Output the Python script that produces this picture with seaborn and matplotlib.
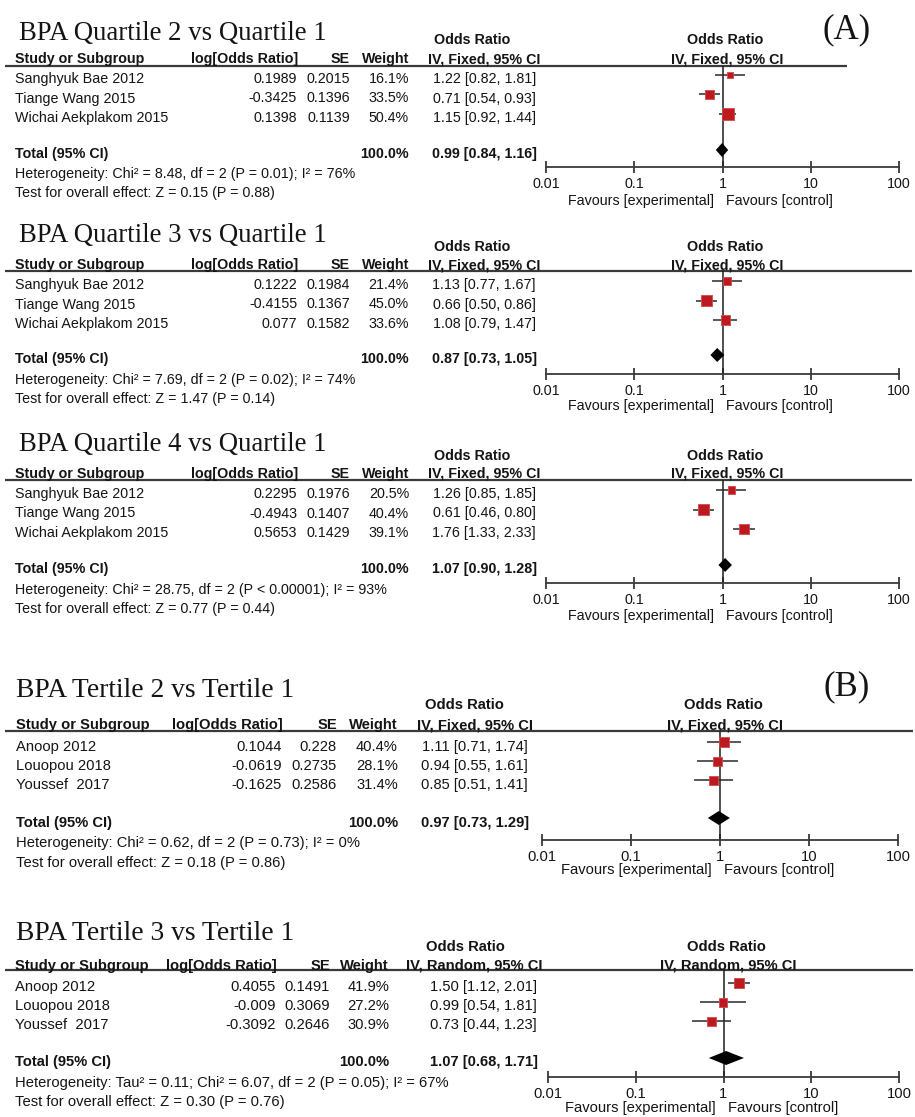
import numpy as np
import pandas as pd
import matplotlib
matplotlib.use("Agg")
import matplotlib.pyplot as plt
import seaborn as sns

# ---------------------------------------------------------------- data
titles = [
    "BPA Quartile 2 vs Quartile 1",
    "BPA Quartile 3 vs Quartile 1",
    "BPA Quartile 4 vs Quartile 1",
    "BPA Tertile 2 vs Tertile 1",
    "BPA Tertile 3 vs Tertile 1",
]
quartile_studies = ["Sanghyuk Bae 2012", "Tiange Wang 2015", "Wichai Aekplakom 2015"]
tertile_studies = ["Anoop 2012", "Louopou 2018", "Youssef  2017"]
study_names = [quartile_studies, quartile_studies, quartile_studies,
               tertile_studies, tertile_studies]

log_or = [
    [0.1989, -0.3425, 0.1398],
    [0.1222, -0.4155, 0.077],
    [0.2295, -0.4943, 0.5653],
    [0.1044, -0.0619, -0.1625],
    [0.4055, -0.009, -0.3092],
]
se = [
    [0.2015, 0.1396, 0.1139],
    [0.1984, 0.1367, 0.1582],
    [0.1976, 0.1407, 0.1429],
    [0.228, 0.2735, 0.2586],
    [0.1491, 0.3069, 0.2646],
]
weight = [
    [16.1, 33.5, 50.4],
    [21.4, 45.0, 33.6],
    [20.5, 40.4, 39.1],
    [40.4, 28.1, 31.4],
    [41.9, 27.2, 30.9],
]
odds_ratio = [
    [1.22, 0.71, 1.15],
    [1.13, 0.66, 1.08],
    [1.26, 0.61, 1.76],
    [1.11, 0.94, 0.85],
    [1.50, 0.99, 0.73],
]
ci_low = [
    [0.82, 0.54, 0.92],
    [0.77, 0.50, 0.79],
    [0.85, 0.46, 1.33],
    [0.71, 0.55, 0.51],
    [1.12, 0.54, 0.44],
]
ci_high = [
    [1.81, 0.93, 1.44],
    [1.67, 0.86, 1.47],
    [1.85, 0.80, 2.33],
    [1.74, 1.61, 1.41],
    [2.01, 1.81, 1.23],
]
total_or = [0.99, 0.87, 1.07, 0.97, 1.07]
total_low = [0.84, 0.73, 0.90, 0.73, 0.68]
total_high = [1.16, 1.05, 1.28, 1.29, 1.71]
methods = ["Fixed", "Fixed", "Fixed", "Fixed", "Random"]
heterogeneity = [
    "Heterogeneity: Chi\u00b2 = 8.48, df = 2 (P = 0.01); I\u00b2 = 76%",
    "Heterogeneity: Chi\u00b2 = 7.69, df = 2 (P = 0.02); I\u00b2 = 74%",
    "Heterogeneity: Chi\u00b2 = 28.75, df = 2 (P < 0.00001); I\u00b2 = 93%",
    "Heterogeneity: Chi\u00b2 = 0.62, df = 2 (P = 0.73); I\u00b2 = 0%",
    "Heterogeneity: Tau\u00b2 = 0.11; Chi\u00b2 = 6.07, df = 2 (P = 0.05); I\u00b2 = 67%",
]
overall_test = [
    "Test for overall effect: Z = 0.15 (P = 0.88)",
    "Test for overall effect: Z = 1.47 (P = 0.14)",
    "Test for overall effect: Z = 0.77 (P = 0.44)",
    "Test for overall effect: Z = 0.18 (P = 0.86)",
    "Test for overall effect: Z = 0.30 (P = 0.76)",
]
axis_ticks = [0.01, 0.1, 1, 10, 100]
axis_tick_labels = ["0.01", "0.1", "1", "10", "100"]
panel_tags = {0: "(A)", 3: "(B)"}

# ---------------------------------------------------------------- layout (pixels)
W, H = 915, 1117
layout = [
    dict(base=79, step=19.5, title=40, title_x=19, title_fs=19.3, orhdr=40, hdr=59, rule=66,
         total=154, het=174, test=193, axis=167, ticklab=183, fav=201, sq=-4, name_x=15,
         lor_r=297, se_r=350, wt_r=409, ci_r=536, cihdr_r=540, orhdr_c=472, pl=546, pr=899,
         rule_r=847, fs=10.3),
    dict(base=285, step=19.5, title=242, title_x=19, title_fs=19.3, orhdr=247, hdr=265,
         rule=271, total=359, het=380, test=399, axis=374, ticklab=388, fav=406, sq=-4,
         name_x=15, lor_r=297, se_r=350, wt_r=409, ci_r=536, cihdr_r=540, orhdr_c=472,
         pl=546, pr=899, rule_r=912, fs=10.3),
    dict(base=494, step=19.5, title=451, title_x=19, title_fs=19.3, orhdr=456, hdr=474,
         rule=480, total=569, het=590, test=609, axis=583, ticklab=597, fav=616, sq=-4,
         name_x=15, lor_r=297, se_r=350, wt_r=409, ci_r=536, cihdr_r=540, orhdr_c=472,
         pl=546, pr=899, rule_r=912, fs=10.3),
    dict(base=747, step=19.2, title=697, title_x=16, title_fs=19.8, orhdr=705, hdr=725,
         rule=731, total=823, het=843, test=863, axis=840, ticklab=853, fav=870, sq=-5,
         name_x=16, lor_r=282, se_r=337, wt_r=398, ci_r=528, cihdr_r=533, orhdr_c=464,
         pl=542, pr=898, rule_r=913, fs=10.6),
    dict(base=987, step=19.2, title=940, title_x=16, title_fs=19.8, orhdr=947, hdr=966,
         rule=970, total=1062, het=1083, test=1102, axis=1077, ticklab=1092, fav=1108, sq=-4,
         name_x=15, lor_r=276, se_r=330, wt_r=389, ci_r=537, cihdr_r=542, orhdr_c=465,
         pl=548, pr=899, rule_r=913, fs=10.6),
]

SQUARE = "#BD1A20"
SQUARE_EDGE = "#D24A4E"
INK = "#141414"
RULE = "#3a3a3a"

sns.set_theme(style="white")
plt.rcParams["font.family"] = ["Liberation Sans", "DejaVu Sans"]

fig = plt.figure(figsize=(W / 100, H / 100), dpi=100)
canvas = fig.add_axes([0, 0, 1, 1])
canvas.set_xlim(0, W)
canvas.set_ylim(H, 0)
canvas.axis("off")


def txt(x, y, s, ha="left", bold=False, size=10.3, **kw):
    canvas.text(x, y, s, ha=ha, va="center", fontsize=size, color=INK,
                fontweight="bold" if bold else "normal", **kw)


for p, L in enumerate(layout):
    fs = L["fs"]
    names = study_names[p]
    n = len(names)
    x_one = L["pl"] + (L["pr"] - L["pl"]) / 2

    # title and panel tag
    canvas.text(L["title_x"], L["title"], titles[p], ha="left", va="baseline",
                fontsize=L["title_fs"], family="Liberation Serif", color=INK)
    if p in panel_tags:
        canvas.text(847, L["title"] - 2, panel_tags[p], ha="center", va="baseline",
                    fontsize=25, family="Liberation Serif", color=INK)

    # column headers
    method = f"IV, {methods[p]}, 95% CI"
    txt(L["orhdr_c"], L["orhdr"], "Odds Ratio", ha="center", bold=True, size=fs)
    txt(x_one + 3, L["orhdr"], "Odds Ratio", ha="center", bold=True, size=fs)
    txt(L["name_x"], L["hdr"], "Study or Subgroup", bold=True, size=fs)
    txt(L["lor_r"] + 1, L["hdr"], "log[Odds Ratio]", ha="right", bold=True, size=fs)
    txt(L["se_r"], L["hdr"], "SE", ha="right", bold=True, size=fs)
    txt(L["wt_r"], L["hdr"], "Weight", ha="right", bold=True, size=fs)
    txt(L["cihdr_r"], L["hdr"], method, ha="right", bold=True, size=fs)
    txt(x_one + 5, L["hdr"], method, ha="center", bold=True, size=fs)
    canvas.plot([5, L["rule_r"]], [L["rule"], L["rule"]], color=RULE, lw=1.6,
                solid_capstyle="butt")

    # study rows
    for i in range(n):
        y = L["base"] + i * L["step"]
        txt(L["name_x"], y, names[i], size=fs)
        txt(L["lor_r"], y, f"{log_or[p][i]:g}", ha="right", size=fs)
        txt(L["se_r"], y, f"{se[p][i]:g}", ha="right", size=fs)
        txt(L["wt_r"], y, f"{weight[p][i]:.1f}%", ha="right", size=fs)
        txt(L["ci_r"], y,
            f"{odds_ratio[p][i]:.2f} [{ci_low[p][i]:.2f}, {ci_high[p][i]:.2f}]",
            ha="right", size=fs)

    # pooled estimate and statistics
    txt(L["name_x"], L["total"], "Total (95% CI)", bold=True, size=fs)
    txt(L["wt_r"], L["total"], "100.0%", ha="right", bold=True, size=fs)
    txt(L["ci_r"] + 1, L["total"],
        f"{total_or[p]:.2f} [{total_low[p]:.2f}, {total_high[p]:.2f}]",
        ha="right", bold=True, size=fs)
    txt(L["name_x"], L["het"], heterogeneity[p], size=fs)
    txt(L["name_x"], L["test"], overall_test[p], size=fs)

    # favours labels under the forest axis
    txt(x_one - 8, L["fav"], "Favours [experimental]", ha="right", size=fs)
    txt(x_one + 4, L["fav"], "Favours [control]", ha="left", size=fs)

    # forest plot axes
    sq0 = L["base"] + L["sq"]
    step = L["step"]
    y_top = (L["rule"] - sq0) / step
    y_bot = (L["axis"] - sq0) / step
    total_row = (L["total"] + L["sq"] - sq0) / step
    ax = fig.add_axes([L["pl"] / W, 1 - L["axis"] / H,
                       (L["pr"] - L["pl"]) / W, (L["axis"] - L["rule"]) / H])
    ax.patch.set_alpha(0)
    ax.set_xscale("log")
    ax.set_xlim(0.01, 100)
    ax.set_ylim(y_bot, y_top)

    rows = np.arange(n, dtype=float)
    side_px = 1.65 * np.sqrt(np.array(weight[p]))
    df = pd.DataFrame({"or": odds_ratio[p], "row": rows,
                       "area": (side_px * 0.72) ** 2})
    ax.axvline(1, color="#1e1e1e", lw=1.1, zorder=1)
    ax.hlines(rows, ci_low[p], ci_high[p], color="#2a2a2a", lw=1.1, zorder=2)
    sns.scatterplot(data=df, x="or", y="row", marker="s", s=df["area"].to_numpy(),
                    color=SQUARE, edgecolor=SQUARE_EDGE, linewidth=0.6,
                    legend=False, zorder=3, ax=ax)
    half_h = 7.0 / step
    ax.fill([total_low[p], total_or[p], total_high[p], total_or[p]],
            [total_row, total_row - half_h, total_row, total_row + half_h],
            color="black", lw=0, zorder=4)

    for side in ("top", "right", "left"):
        ax.spines[side].set_visible(False)
    ax.spines["bottom"].set_color(RULE)
    ax.spines["bottom"].set_linewidth(1.3)
    ax.set_xticks(axis_ticks)
    ax.set_xticklabels(axis_tick_labels)
    ax.minorticks_off()
    ax.tick_params(axis="x", which="major", direction="inout", length=8, width=1.3,
                   color=RULE, labelsize=fs, labelcolor=INK, pad=3,
                   bottom=True)
    ax.set_yticks([])
    ax.set_xlabel("")
    ax.set_ylabel("")
    ax.grid(False)

fig.savefig("out.png", dpi=100)
